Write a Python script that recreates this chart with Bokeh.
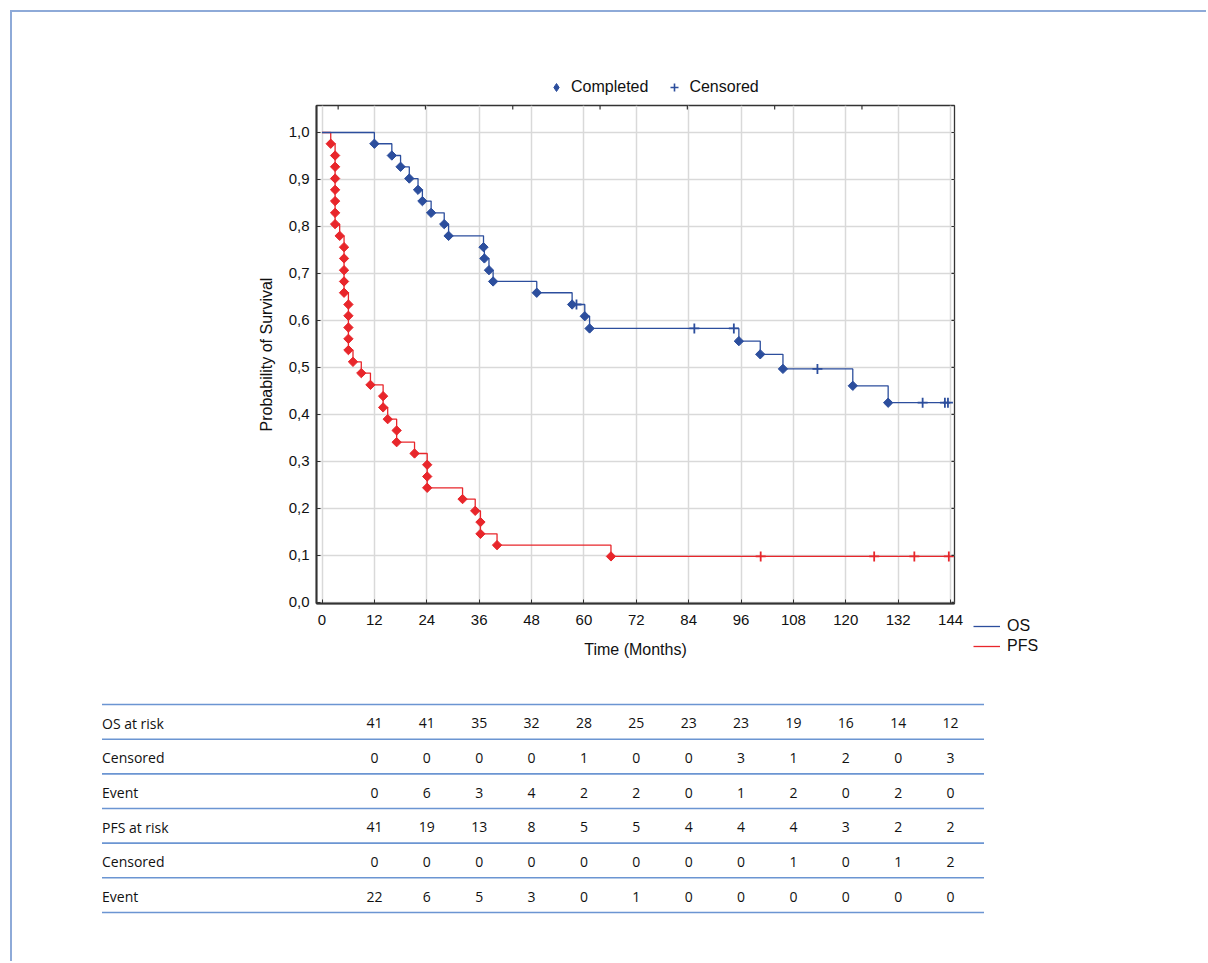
import math
from bokeh.plotting import figure
from bokeh.models import (FixedTicker, Legend, LegendItem, CustomJSTickFormatter,
                          Range1d, ColumnDataSource)
from bokeh.layouts import column, row
from bokeh.core.properties import value
from bokeh.embed import file_html
from bokeh.resources import INLINE

# ---------------- data ----------------
os_event_t = [12, 16, 18, 20, 22, 23, 25, 28, 29, 37, 37.2, 38.25, 39.2, 49.2, 57.3, 60.2, 61.3,
              95.5, 100.4, 105.6, 121.6, 129.7]
os_event_s = [0.976, 0.951, 0.927, 0.902, 0.878, 0.854, 0.829, 0.805, 0.780, 0.756, 0.732, 0.707,
              0.683, 0.659, 0.634, 0.609, 0.583, 0.556, 0.528, 0.497, 0.461, 0.425]
os_cens_t = [58.3, 85.3, 94.35, 113.5, 137.6, 142.7, 143.4]
os_cens_s = [0.634, 0.583, 0.583, 0.497, 0.425, 0.425, 0.425]

pfs_event_t = [2.0, 3.0, 3.0, 3.0, 3.0, 3.0, 3.0, 3.0, 4.05, 5.05, 5.05, 5.05, 5.05, 5.05,
               6.05, 6.05, 6.05, 6.05, 6.05, 7.1, 9.0, 11.1, 14.0, 14.0, 15.05, 17.1, 17.1,
               21.2, 24.1, 24.1, 24.1, 32.2, 35.1, 36.3, 36.3, 40.1, 66.2]
pfs_event_s = [0.976, 0.951, 0.927, 0.902, 0.878, 0.854, 0.829, 0.805, 0.780, 0.756, 0.732,
               0.707, 0.683, 0.659, 0.634, 0.610, 0.585, 0.561, 0.537, 0.512, 0.488, 0.463,
               0.439, 0.415, 0.390, 0.366, 0.341, 0.317, 0.293, 0.268, 0.244, 0.220, 0.195,
               0.171, 0.146, 0.122, 0.098]
pfs_cens_t = [100.5, 126.5, 135.7, 143.6]
pfs_cens_s = [0.098, 0.098, 0.098, 0.098]

t_end = 144
x_ticks = [0, 12, 24, 36, 48, 60, 72, 84, 96, 108, 120, 132, 144]
y_ticks = [0.0, 0.1, 0.2, 0.3, 0.4, 0.5, 0.6, 0.7, 0.8, 0.9, 1.0]
top_ticks = [3.7, 23.7, 43.7, 63.7, 83.7, 103.7, 123.7]

table_rows = ["OS at risk", "Censored", "Event", "PFS at risk", "Censored", "Event"]
table_cols = [12, 24, 36, 48, 60, 72, 84, 96, 108, 120, 132, 144]
os_at_risk = [41, 41, 35, 32, 28, 25, 23, 23, 19, 16, 14, 12]
os_censored = [0, 0, 0, 0, 1, 0, 0, 3, 1, 2, 0, 3]
os_event = [0, 6, 3, 4, 2, 2, 0, 1, 2, 0, 2, 0]
pfs_at_risk = [41, 19, 13, 8, 5, 5, 4, 4, 4, 3, 2, 2]
pfs_censored = [0, 0, 0, 0, 0, 0, 0, 0, 1, 0, 1, 2]
pfs_event = [22, 6, 5, 3, 0, 1, 0, 0, 0, 0, 0, 0]
table_values = [os_at_risk, os_censored, os_event, pfs_at_risk, pfs_censored, pfs_event]

# ---------------- styles ----------------
OS_C = "#2C4E9D"
PFS_C = "#E8262B"
AX_FONT = "Liberation Sans"
TB_FONT = "Open Sans"


def no_align(fig):
    try:
        fig.frame_align = False
    except Exception:
        pass


def blank_fig(w, h):
    f = figure(frame_width=w, frame_height=h, min_border=0, x_range=Range1d(0, 1),
               y_range=Range1d(0, 1), x_axis_location=None, y_axis_location=None,
               output_backend="svg", toolbar_location=None)
    f.grid.visible = False
    f.outline_line_color = None
    f.background_fill_color = "white"
    f.border_fill_color = "white"
    no_align(f)
    return f


X0, X1 = -1.26, 144.9
Y0, Y1 = -0.0022, 1.0574
FW, FH = 638, 498
PPX = FW / (X1 - X0)
PPY = FH / (Y1 - Y0)

# ---------------- main chart ----------------
p = figure(frame_width=FW, frame_height=FH, min_border_left=304, min_border_right=14,
           min_border_top=3, min_border_bottom=87,
           x_range=Range1d(X0, X1), y_range=Range1d(Y0, Y1),
           output_backend="svg", toolbar_location=None)
p.background_fill_color = "white"
p.border_fill_color = "white"
p.outline_line_color = "#333333"
p.outline_line_width = 1.3
no_align(p)

p.xgrid.ticker = FixedTicker(ticks=x_ticks)
p.ygrid.ticker = FixedTicker(ticks=y_ticks)
for g in (p.xgrid[0], p.ygrid[0]):
    g.grid_line_color = "#d9d9d9"
    g.grid_line_width = 1.5

os_x = [0] + os_event_t + [t_end]
os_y = [1.0] + os_event_s + [os_event_s[-1]]
pfs_x = [0] + pfs_event_t + [t_end]
pfs_y = [1.0] + pfs_event_s + [pfs_event_s[-1]]

LINE_KW = dict(line_width=1.3)
EV_KW = dict(marker="square", size=6.6, angle=math.pi / 4, line_width=1)
CE_KW = dict(marker="cross", size=10, line_width=1.8)

p.step(pfs_x, pfs_y, mode="after", line_color=PFS_C, **LINE_KW)
p.step(os_x, os_y, mode="after", line_color=OS_C, **LINE_KW)
p.scatter(pfs_event_t, pfs_event_s, fill_color=PFS_C, line_color=PFS_C, **EV_KW)
p.scatter(pfs_cens_t, pfs_cens_s, line_color=PFS_C, **CE_KW)
p.scatter(os_event_t, os_event_s, fill_color=OS_C, line_color=OS_C, **EV_KW)
p.scatter(os_cens_t, os_cens_s, line_color=OS_C, **CE_KW)

# small tick marks on the top and right edges of the box
p.segment(x0=top_ticks, x1=top_ticks, y0=[Y1] * len(top_ticks),
          y1=[Y1 - 4 / PPY] * len(top_ticks), line_color="#333333", line_width=1.2)
p.segment(x0=[X1 - 3 / PPX] * len(y_ticks), x1=[X1] * len(y_ticks), y0=y_ticks, y1=y_ticks,
          line_color="#333333", line_width=1.2)

xa = p.xaxis[0]
xa.ticker = FixedTicker(ticks=x_ticks)
ya = p.yaxis[0]
ya.ticker = FixedTicker(ticks=y_ticks)
ya.formatter = CustomJSTickFormatter(code="return tick.toFixed(1).replace('.', ',');")
xa.axis_label = "Time (Months)"
ya.axis_label = "Probability of Survival"
for ax in (xa, ya):
    ax.axis_line_color = "#333333"
    ax.axis_line_width = 2
    ax.major_tick_in = 4
    ax.major_tick_out = 0
    ax.major_tick_line_color = "#333333"
    ax.minor_tick_line_color = None
    ax.major_label_text_font = AX_FONT
    ax.major_label_text_font_size = "15px"
    ax.major_label_text_color = "#111111"
    ax.axis_label_text_font = AX_FONT
    ax.axis_label_text_font_size = "16px"
    ax.axis_label_text_font_style = "normal"
    ax.axis_label_text_color = "#111111"
xa.major_label_standoff = 11
xa.axis_label_standoff = 13
ya.major_label_standoff = 7
ya.axis_label_standoff = 11

# ---------------- top legend (Completed / Censored) ----------------
# legend-only renderers: their single point lies outside the visible range
top_fig = blank_fig(800, 90)
lg_ev = top_fig.scatter([-5], [-5], marker="diamond", size=8, fill_color=OS_C,
                        line_color=OS_C, line_width=1)
lg_ce = top_fig.scatter([-5], [-5], marker="cross", size=8, line_color=OS_C, line_width=1.6)
top_leg = Legend(items=[LegendItem(label="Completed", renderers=[lg_ev]),
                        LegendItem(label="Censored", renderers=[lg_ce])],
                 orientation="horizontal", location=(534, 5), padding=0, margin=0,
                 glyph_width=20, glyph_height=20, label_height=20, label_standoff=5,
                 spacing=16, border_line_color=None, background_fill_color=None,
                 label_text_font=AX_FONT, label_text_font_size="16px",
                 label_text_color="#111111")
top_fig.add_layout(top_leg)

# ---------------- right legend (OS / PFS) ----------------
MAIN_H = 3 + FH + 87
right_fig = blank_fig(96, MAIN_H)
lg_os = right_fig.line([-5, -4], [-5, -5], line_color=OS_C, **LINE_KW)
lg_pfs = right_fig.line([-5, -4], [-5, -5], line_color=PFS_C, **LINE_KW)
right_leg = Legend(items=[LegendItem(label="OS", renderers=[lg_os]),
                          LegendItem(label="PFS", renderers=[lg_pfs])],
                   orientation="vertical", location=(5, 34), padding=0, margin=0,
                   glyph_width=27, glyph_height=20, label_height=20, label_standoff=7,
                   spacing=0, border_line_color=None, background_fill_color=None,
                   label_text_font=AX_FONT, label_text_font_size="16px",
                   label_text_color="#111111")
right_fig.add_layout(right_leg)

# ---------------- table ----------------
TX0 = X0 - 216 / PPX
TX1 = X1 + 30 / PPX
t = figure(frame_width=884, frame_height=216, min_border_left=88, min_border_right=222,
           min_border_top=10, min_border_bottom=45,
           x_range=Range1d(TX0, TX1), y_range=Range1d(6.116, -0.116),
           x_axis_location=None, y_axis_location=None,
           output_backend="svg", toolbar_location=None)
t.grid.visible = False
t.outline_line_color = None
t.background_fill_color = "white"
t.border_fill_color = "white"
no_align(t)

n_rows = len(table_rows)
line_x0 = TX0 + 1.5 / PPX
line_x1 = TX1 - 0.5 / PPX
bounds = list(range(n_rows + 1))
t.segment(x0=[line_x0] * len(bounds), x1=[line_x1] * len(bounds), y0=bounds, y1=bounds,
          line_color="#6b95d2", line_width=1.6)

lab_src = ColumnDataSource(dict(x=[line_x0] * n_rows, y=[i + 0.54 for i in range(n_rows)],
                                text=table_rows))
t.text(x="x", y="y", text="text", source=lab_src, text_font=value(TB_FONT),
       text_font_size="14px", text_baseline="middle", text_align="left", text_color="#111111")

vx, vy, vt = [], [], []
for i, vals in enumerate(table_values):
    for c, v in zip(table_cols, vals):
        vx.append(c)
        vy.append(i + 0.54)
        vt.append(str(v))
val_src = ColumnDataSource(dict(x=vx, y=vy, text=vt))
t.text(x="x", y="y", text="text", source=val_src, text_font=value(TB_FONT),
       text_font_size="14px", text_baseline="middle", text_align="center", text_color="#111111")

layout = column(top_fig, row(p, right_fig, spacing=0), t, spacing=0,
                styles={"border-top": "2px solid #8eaad8", "border-left": "2px solid #8eaad8",
                        "margin-left": "10px", "margin-top": "10px"})

open("out.html", "w").write(file_html(layout, INLINE))
